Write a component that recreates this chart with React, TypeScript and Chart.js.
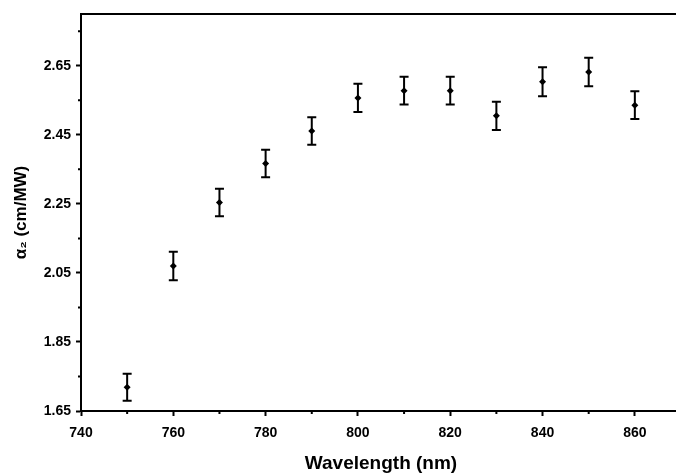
import React, { useEffect, useRef } from "react";
import { Chart, registerables } from "chart.js";

Chart.register(...registerables);

const wavelengths = [750, 760, 770, 780, 790, 800, 810, 820, 830, 840, 850, 860];
const alpha2 = [1.719, 2.07, 2.254, 2.367, 2.461, 2.557, 2.578, 2.578, 2.505, 2.604, 2.632, 2.536];
const alpha2Err = [0.039, 0.041, 0.04, 0.04, 0.04, 0.041, 0.04, 0.04, 0.041, 0.042, 0.041, 0.04];
const xMajorTicks = [740, 760, 780, 800, 820, 840, 860];
const xMinorTicks = [750, 770, 790, 810, 830, 850];
const yMajorTicks = [1.65, 1.85, 2.05, 2.25, 2.45, 2.65];
const yMinorTicks = [1.75, 1.95, 2.15, 2.35, 2.55, 2.75];
const xRange = [740, 870];
const yRange = [1.65, 2.8];
const xTitle = "Wavelength (nm)";
const yTitle = "α₂ (cm/MW)";

const FONT = "'Liberation Sans', Arial, Helvetica, sans-serif";

const errorBarPlugin = {
  id: "errorBars",
  beforeDatasetsDraw(chart: any) {
    const { ctx } = chart;
    const xs = chart.scales.x;
    const ys = chart.scales.y;
    ctx.save();
    ctx.strokeStyle = "#000";
    ctx.lineWidth = 2;
    for (let i = 0; i < wavelengths.length; i++) {
      const px = xs.getPixelForValue(wavelengths[i]);
      const top = ys.getPixelForValue(alpha2[i] + alpha2Err[i]);
      const bot = ys.getPixelForValue(alpha2[i] - alpha2Err[i]);
      ctx.beginPath();
      ctx.moveTo(px, top);
      ctx.lineTo(px, bot);
      ctx.moveTo(px - 4.5, top);
      ctx.lineTo(px + 4.5, top);
      ctx.moveTo(px - 4.5, bot);
      ctx.lineTo(px + 4.5, bot);
      ctx.stroke();
    }
    ctx.restore();
  },
};

const framePlugin = {
  id: "frameAndMinor",
  afterDraw(chart: any) {
    const { ctx, chartArea } = chart;
    const xs = chart.scales.x;
    const ys = chart.scales.y;
    ctx.save();
    ctx.strokeStyle = "#000";
    ctx.lineWidth = 2;
    ctx.beginPath();
    ctx.moveTo(chartArea.left - 1, chartArea.top);
    ctx.lineTo(chartArea.right + 2, chartArea.top);
    ctx.stroke();
    ctx.beginPath();
    for (const v of xMinorTicks) {
      const px = xs.getPixelForValue(v);
      ctx.moveTo(px, chartArea.bottom);
      ctx.lineTo(px, chartArea.bottom + 3);
    }
    for (const v of yMinorTicks) {
      const py = ys.getPixelForValue(v);
      ctx.moveTo(chartArea.left, py);
      ctx.lineTo(chartArea.left - 3, py);
    }
    ctx.stroke();
    ctx.restore();
  },
};

export default function App() {
  const ref = useRef<HTMLCanvasElement | null>(null);

  useEffect(() => {
    if (!ref.current) return;
    const chart = new Chart(ref.current, {
      type: "scatter",
      data: {
        datasets: [
          {
            data: wavelengths.map((w, i) => ({ x: w, y: alpha2[i] })),
            pointStyle: "rectRot",
            pointRadius: 3.5,
            backgroundColor: "#000",
            borderColor: "#000",
            borderWidth: 0,
            showLine: false,
          },
        ],
      },
      options: {
        animation: false,
        responsive: false,
        layout: { padding: { top: 14, right: 9, left: 0, bottom: 0 } },
        plugins: { legend: { display: false }, tooltip: { enabled: false } },
        scales: {
          x: {
            type: "linear",
            min: xRange[0],
            max: xRange[1],
            afterBuildTicks: (s: any) => {
              s.ticks = xMajorTicks.map((v) => ({ value: v }));
            },
            afterFit: (s: any) => {
              s.height = 62;
            },
            grid: {
              display: true,
              drawOnChartArea: false,
              drawTicks: true,
              tickLength: 5,
              tickWidth: 2,
              tickColor: "#000",
            },
            border: { display: true, color: "#000", width: 2 },
            ticks: {
              color: "#000",
              padding: 9,
              maxRotation: 0,
              autoSkip: false,
              font: { family: FONT, size: 14, weight: "bold" },
              callback: (v: any) => String(v),
            },
            title: {
              display: true,
              text: xTitle,
              color: "#000",
              padding: { top: 0, bottom: 0 },
              font: { family: FONT, size: 19, weight: "bold", lineHeight: 1 },
            },
          },
          y: {
            type: "linear",
            min: yRange[0],
            max: yRange[1],
            afterBuildTicks: (s: any) => {
              s.ticks = yMajorTicks.map((v) => ({ value: v }));
            },
            afterFit: (s: any) => {
              s.width = 81;
            },
            grid: {
              display: true,
              drawOnChartArea: false,
              drawTicks: true,
              tickLength: 5,
              tickWidth: 2,
              tickColor: "#000",
            },
            border: { display: true, color: "#000", width: 2 },
            ticks: {
              color: "#000",
              padding: 5,
              autoSkip: false,
              font: { family: FONT, size: 14, weight: "bold" },
              callback: (v: any) => Number(v).toFixed(2),
            },
            title: {
              display: true,
              text: yTitle,
              color: "#000",
              padding: { top: 13, bottom: 0 },
              font: { family: FONT, size: 17, weight: "bold", lineHeight: 1 },
            },
          },
        },
      },
      plugins: [errorBarPlugin, framePlugin],
    });
    return () => chart.destroy();
  }, []);

  return (
    <div
      style={{
        position: "absolute",
        left: 0,
        top: 0,
        width: 676,
        height: 473,
        overflow: "hidden",
        background: "#fff",
      }}
    >
      <canvas ref={ref} width={690} height={473} style={{ display: "block" }} />
    </div>
  );
}
